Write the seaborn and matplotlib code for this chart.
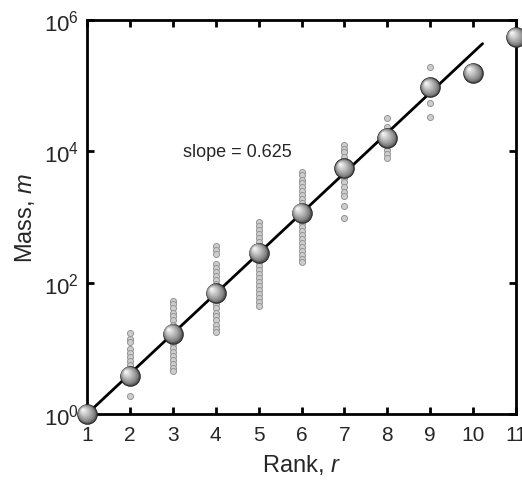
import numpy as np
import pandas as pd
import matplotlib
matplotlib.use("Agg")
import matplotlib.pyplot as plt
import matplotlib.transforms as mtransforms
import seaborn as sns

# ---------------- data ----------------
ranks = [1, 2, 3, 4, 5, 6, 7, 8, 9, 10, 11]
rank_mass = [1, 3.8, 16.8, 69, 287, 1160, 5480, 16000, 94200, 156000, 550000]

dots_r2 = [17.0, 13.8, 12.4, 9.7, 8.5, 7.3, 6.4, 5.6, 4.7, 3.9, 3.3, 1.9]
dots_r3 = [52, 47, 41, 35, 31, 27, 23, 20, 18, 15, 13, 11.6, 10, 8.8, 7.6, 6.6, 5.8, 5.0, 4.5]
dots_r4 = [357, 310, 270, 190, 166, 144, 125, 109, 95, 82, 71, 62, 54, 47, 41, 35, 31, 27, 23, 20, 18]
dots_r5 = [828, 720, 627, 545, 475, 413, 360, 313, 272, 237, 206, 180, 156, 136, 118, 103, 90, 78, 68, 59, 51, 44]
dots_r6 = [4930, 4290, 3720, 3240, 2820, 2450, 2130, 1850, 1610, 1400, 1220, 1060, 920, 800,
           695, 604, 525, 457, 397, 345, 300, 261, 227, 204]
dots_r7 = [12700, 11000, 9600, 8300, 7250, 6300, 5300, 4440, 3860, 3360, 2820, 2370, 2060, 1450, 950]
dots_r8 = [32600, 23800, 10650, 9260, 8050]
dots_r9 = [194000, 55200, 33800]

line_rank = [1, 10.22]
line_mass = [1, 436000]

slope_label = "slope = 0.625"
x_ticks = [1, 2, 3, 4, 5, 6, 7, 8, 9, 10, 11]
y_ticks = [1, 1e2, 1e4, 1e6]
y_tick_labels = [r"$10^0$", r"$10^2$", r"$10^4$", r"$10^6$"]
x_label = r"Rank, $r$"
y_label = r"Mass, $m$"

# ---------------- style ----------------
sns.set_style("ticks")
plt.rcParams["font.family"] = ["Liberation Sans", "DejaVu Sans"]
plt.rcParams["mathtext.fontset"] = "custom"
plt.rcParams["mathtext.rm"] = "Liberation Sans"
plt.rcParams["mathtext.it"] = "Liberation Sans:italic"

fig = plt.figure(figsize=(5.22, 4.81), dpi=100)
ax = fig.add_axes([87 / 522, 1 - 415 / 481, (516 - 87) / 522, (415 - 21) / 481])
ax.set_yscale("log")
ax.set_xlim(1, 11)
ax.set_ylim(1, 1e6)

# small dots
dot_groups = [(2, dots_r2), (3, dots_r3), (4, dots_r4), (5, dots_r5),
              (6, dots_r6), (7, dots_r7), (8, dots_r8), (9, dots_r9)]
rows = []
for r, vals in dot_groups:
    for v in vals:
        rows.append((r, v))
dots_df = pd.DataFrame(rows, columns=["rank", "mass"])
sns.scatterplot(data=dots_df, x="rank", y="mass", ax=ax, s=19, color="#cdcdcd",
                edgecolor="#959595", linewidth=0.7, legend=False, zorder=2)

# fit line
line_df = pd.DataFrame({"rank": line_rank, "mass": line_mass})
sns.lineplot(data=line_df, x="rank", y="mass", ax=ax, color="black", linewidth=2.0,
             zorder=3, legend=False)

# shaded spheres
sph_df = pd.DataFrame({"rank": ranks, "mass": rank_mass})
D = 14.0  # diameter in points
sns.scatterplot(data=sph_df, x="rank", y="mass", ax=ax, s=D ** 2, color="#5a5a5a",
                edgecolor="#262626", linewidth=0.8, legend=False, zorder=5, clip_on=False)
N = 16
for k in range(1, N + 1):
    frac = k / N
    d = D * (1 - 0.92 * frac) - 0.4
    g = 0.40 + 0.58 * frac ** 0.8
    sns.scatterplot(data=sph_df, x="rank", y="mass", ax=ax, s=d ** 2,
                    color=(g, g, g), edgecolor="none", linewidth=0, legend=False,
                    zorder=5 + k * 0.01, clip_on=False)
    coll = ax.collections[-1]
    dx, dy = -0.22 * D * frac, 0.22 * D * frac
    coll.set_offset_transform(ax.transData +
                              mtransforms.ScaledTranslation(dx / 72, dy / 72, fig.dpi_scale_trans))

ax.text(3.24, 1e4, slope_label, fontsize=13, ha="left", va="center")

# axes / ticks
ax.set_xticks(x_ticks)
ax.set_xticklabels([str(t) for t in x_ticks])
ax.set_yticks(y_ticks)
ax.set_yticklabels(y_tick_labels)
ax.yaxis.set_minor_locator(matplotlib.ticker.NullLocator())
ax.tick_params(axis="both", which="major", direction="in", length=5, width=2,
               top=True, right=True, labelsize=15, color="black")
ax.tick_params(axis="y", labelsize=16, pad=6)
ax.tick_params(axis="x", pad=8)
for sp in ax.spines.values():
    sp.set_visible(True)
    sp.set_linewidth(2.0)
    sp.set_color("black")
ax.set_xlabel(x_label, fontsize=17, labelpad=6)
ax.set_ylabel(y_label, fontsize=17, labelpad=5)

fig.savefig("out.png", dpi=100)
